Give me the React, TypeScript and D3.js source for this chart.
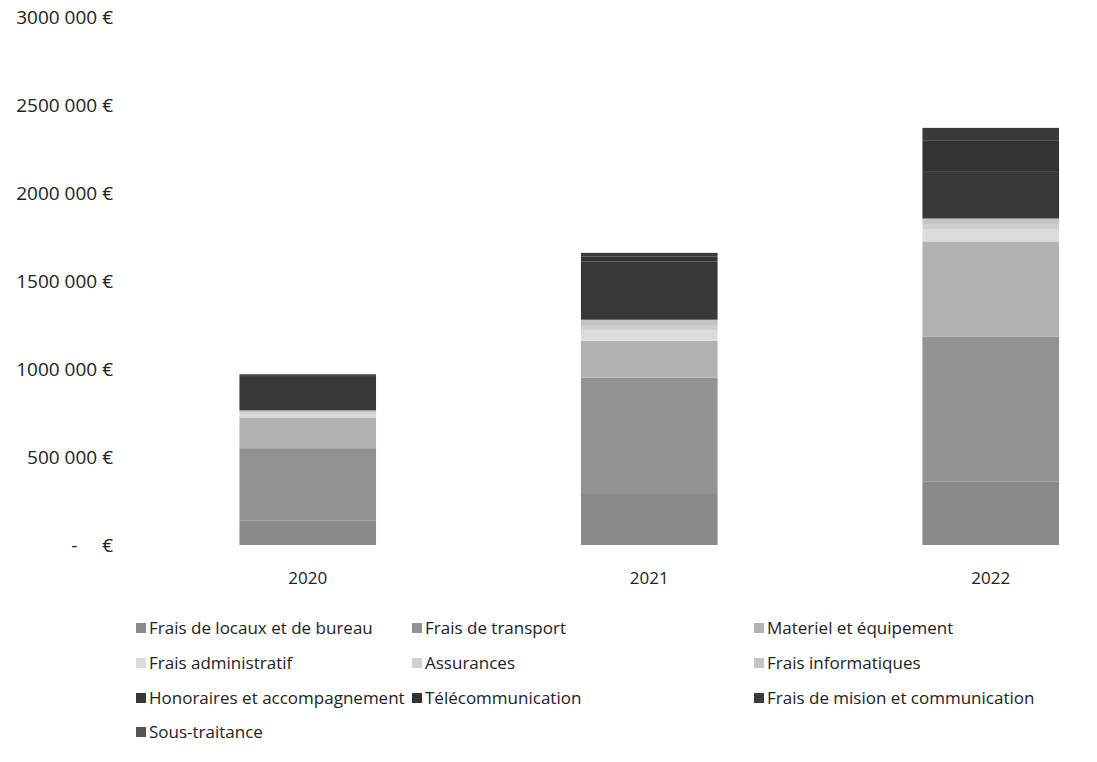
import { useEffect, useRef } from 'react';
import * as d3 from 'd3';

const years = ['2020', '2021', '2022'];

const seriesNames = [
  'Frais de locaux et de bureau',
  'Frais de transport',
  'Materiel et équipement',
  'Frais administratif',
  'Assurances',
  'Frais informatiques',
  'Honoraires et accompagnement',
  'Télécommunication',
  'Frais de mision et communication',
  'Sous-traitance',
];

// values per series, one per year (2020, 2021, 2022)
const locaux = [140000, 295000, 360000];
const transport = [410000, 655000, 825000];
const materiel = [175000, 210000, 540000];
const administratif = [20000, 60000, 70000];
const assurances = [10000, 25000, 25000];
const informatiques = [10000, 35000, 35000];
const honoraires = [190000, 330000, 265000];
const telecom = [10000, 30000, 180000];
const mision = [5000, 20000, 70000];
const sousTraitance = [0, 0, 0];

const seriesValues = [
  locaux,
  transport,
  materiel,
  administratif,
  assurances,
  informatiques,
  honoraires,
  telecom,
  mision,
  sousTraitance,
];

const seriesColors = [
  '#8a8a8a',
  '#929292',
  '#b2b2b2',
  '#dcdcdc',
  '#cfcfcf',
  '#c4c4c4',
  '#383838',
  '#333333',
  '#3a3a3a',
  '#555555',
];

const yTicks = [0, 500000, 1000000, 1500000, 2000000, 2500000, 3000000];

export default function App() {
  const svgRef = useRef<SVGSVGElement>(null);

  useEffect(() => {
    if (!svgRef.current) return;
    const svg = d3.select(svgRef.current);
    svg.selectAll('*').remove();

    const width = 1097;
    const height = 762;
    const font = 'Open Sans, Noto Sans, sans-serif';

    svg.attr('width', width).attr('height', height);

    const x = d3
      .scaleBand()
      .domain(years)
      .range([137, 1161.5])
      .paddingInner(0.6)
      .paddingOuter(0.3);

    const y = d3.scaleLinear().domain([0, 3000000]).range([545, 17]);

    const table = years.map((yr, i) => {
      const row: Record<string, any> = { year: yr };
      seriesNames.forEach((s, k) => (row[s] = seriesValues[k][i]));
      return row;
    });

    const stacked = d3.stack<any>().keys(seriesNames)(table);

    // Bars
    svg
      .append('g')
      .selectAll('g')
      .data(stacked)
      .join('g')
      .attr('fill', (_d, i) => seriesColors[i])
      .selectAll('rect')
      .data((d) => d)
      .join('rect')
      .attr('x', (d) => x(d.data.year)!)
      .attr('width', x.bandwidth())
      .attr('y', (d) => y(d[1]))
      .attr('height', (d) => y(d[0]) - y(d[1]));

    // Y tick labels
    const fmt = (v: number) => {
      if (v === 0) return '-     €';
      const s = String(v);
      return s.slice(0, s.length - 3) + ' ' + s.slice(-3) + ' €';
    };
    svg
      .append('g')
      .selectAll('text')
      .data(yTicks)
      .join('text')
      .attr('x', 113)
      .attr('y', (d) => y(d))
      .attr('dy', '0.35em')
      .attr('text-anchor', 'end')
      .attr('font-family', font)
      .attr('font-size', 19)
      .attr('fill', '#222')
      .style('white-space', 'pre')
      .text(fmt);

    // X labels
    svg
      .append('g')
      .selectAll('text')
      .data(years)
      .join('text')
      .attr('x', (d) => x(d)! + x.bandwidth() / 2)
      .attr('y', 578)
      .attr('dy', '0.35em')
      .attr('text-anchor', 'middle')
      .attr('font-family', font)
      .attr('font-size', 17)
      .attr('fill', '#222')
      .text((d) => d);

    // Legend
    const colX = [136, 412, 754];
    const rowY = [628, 663, 698, 732];
    const legend = svg
      .append('g')
      .selectAll('g')
      .data(seriesNames)
      .join('g')
      .attr('transform', (_d, i) => `translate(${colX[i % 3]},${rowY[Math.floor(i / 3)]})`);

    legend
      .append('rect')
      .attr('x', 0)
      .attr('y', -5)
      .attr('width', 10)
      .attr('height', 10)
      .attr('fill', (_d, i) => seriesColors[i]);

    legend
      .append('text')
      .attr('x', 13)
      .attr('y', 0)
      .attr('dy', '0.35em')
      .attr('font-family', font)
      .attr('font-size', 17)
      .attr('fill', '#222')
      .text((d) => d);
  }, []);

  return (
    <div style={{ position: 'absolute', left: 0, top: 0 }}>
      <svg ref={svgRef} style={{ display: 'block', background: '#fff' }} />
    </div>
  );
}
